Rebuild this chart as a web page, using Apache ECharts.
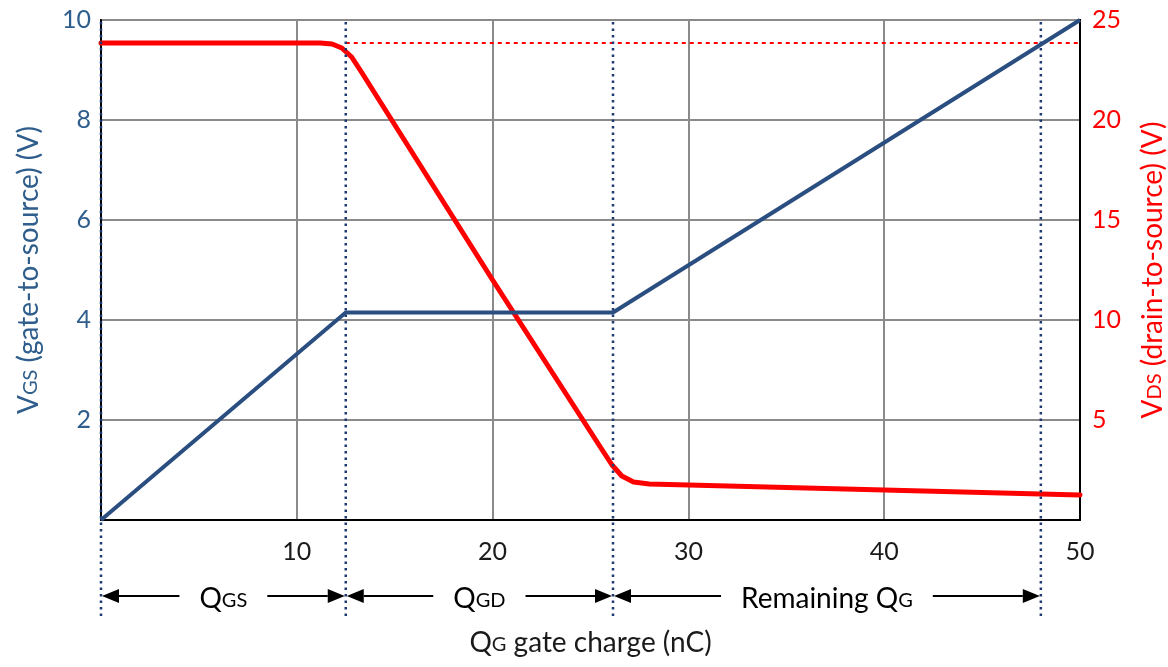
<html>
  <head>
    <title>Gate charge</title>
    <script src="https://cdn.jsdelivr.net/npm/echarts@6/dist/echarts.min.js"></script>
    <style>
      html, body { margin: 0; padding: 0; background: #fff; }
      #chart { width: 1168px; height: 667px; }
    </style>
  </head>
  <body>
    <div id="chart"></div>
    <script>
      // gate charge axis (nC) and the two curves
      var vgsQ = [0, 12.5, 26.15, 50]
      var vgs = [0, 4.15, 4.15, 10]

      var vdsQ = [0, 11.2, 11.8, 12.3, 12.8, 13.3, 20, 25.6, 26.1, 26.6, 27.2, 28, 40, 50]
      var vds = [23.85, 23.85, 23.8, 23.6, 23.15, 22.4, 12.0, 3.5, 2.75, 2.2, 1.9, 1.8, 1.5, 1.25]

      var vdsMaxQ = [12.5, 50]
      var vdsMax = [23.85, 23.85]

      // dotted boundaries and the charge spans between them
      var dividers = [0, 12.5, 26.15, 48]
      var spans = [
        [0, 12.5, '{m|Q}{s|GS}'],
        [12.5, 26.15, '{m|Q}{s|GD}'],
        [26.15, 48, '{m|Remaining Q}{s|G}']
      ]

      var blue = '#2B4E80'
      var axisBlue = '#2F5D8C'
      var red = '#FF0000'
      var navy = '#1F3A73'
      var font = 'Lato'

      function zip(a, b) {
        return a.map(function (v, i) { return [v, b[i]] })
      }

      function rich(color) {
        return {
          m: { fontSize: 28, fontFamily: font, color: color, lineHeight: 34 },
          s: { fontSize: 20, fontFamily: font, color: color, lineHeight: 14, verticalAlign: 'bottom' }
        }
      }

      function hideZero(v) { return v === 0 ? '' : v }

      var chart = echarts.init(document.getElementById('chart'))

      chart.setOption({
        animation: false,
        grid: {
          left: 101,
          right: 88,
          top: 20,
          bottom: 147,
          outerBoundsMode: 'none',
          containLabel: false,
          show: true,
          borderColor: '#000',
          borderWidth: 2
        },
        xAxis: {
          type: 'value',
          min: 0,
          max: 50,
          interval: 10,
          name: '{m|Q}{s|G}{m| gate charge (nC)}',
          nameLocation: 'middle',
          nameGap: 106,
          nameTextStyle: { rich: rich('#1a1a1a') },
          axisLine: { lineStyle: { color: '#000', width: 2 } },
          axisTick: { show: false },
          axisLabel: {
            margin: 13,
            fontSize: 25,
            fontFamily: font,
            color: '#1a1a1a',
            formatter: hideZero
          },
          splitLine: { lineStyle: { color: '#8a8a8a', width: 2 } }
        },
        yAxis: [
          {
            type: 'value',
            min: 0,
            max: 10,
            interval: 2,
            name: '{m|V}{s|GS}{m| (gate-to-source) (V)}',
            nameLocation: 'middle',
            nameRotate: 90,
            nameGap: 55,
            nameTextStyle: { rich: rich(axisBlue) },
            axisLine: { show: true, lineStyle: { color: '#000', width: 2 } },
            axisTick: { show: false },
            axisLabel: {
              margin: 10,
              fontSize: 25,
              fontFamily: font,
              color: axisBlue,
              formatter: hideZero
            },
            splitLine: { lineStyle: { color: '#8a8a8a', width: 2 } }
          },
          {
            type: 'value',
            position: 'right',
            min: 0,
            max: 25,
            interval: 5,
            name: '{m|V}{s|DS}{m| (drain-to-source) (V)}',
            nameLocation: 'middle',
            nameRotate: 90,
            nameGap: 43,
            nameTextStyle: { rich: rich(red) },
            axisLine: { show: true, lineStyle: { color: '#000', width: 2 } },
            axisTick: { show: false },
            axisLabel: {
              margin: 12,
              fontSize: 25,
              fontFamily: font,
              color: red,
              formatter: hideZero
            },
            splitLine: { show: false }
          }
        ],
        series: [
          {
            type: 'line',
            yAxisIndex: 1,
            data: zip(vdsMaxQ, vdsMax),
            symbol: 'none',
            lineStyle: { color: red, width: 2, type: [4, 4] },
            z: 2
          },
          {
            type: 'line',
            yAxisIndex: 1,
            data: zip(vdsQ, vds),
            symbol: 'none',
            lineStyle: { color: red, width: 5, join: 'round', cap: 'round' },
            z: 3
          },
          {
            type: 'custom',
            coordinateSystem: 'cartesian2d',
            clip: false,
            silent: true,
            data: dividers,
            renderItem: function (params, api) {
              var x = api.value(0)
              var top = api.coord([x, 10])
              var bot = api.coord([x, 0])
              return {
                type: 'line',
                shape: { x1: top[0], y1: top[1] + 2, x2: bot[0], y2: bot[1] + 100 },
                style: { stroke: navy, lineWidth: 2.5, lineDash: [2.5, 4] }
              }
            },
            z: 4
          },
          {
            type: 'line',
            data: zip(vgsQ, vgs),
            symbol: 'none',
            lineStyle: { color: blue, width: 4 },
            z: 5
          },
          {
            type: 'custom',
            coordinateSystem: 'cartesian2d',
            clip: false,
            silent: true,
            data: spans,
            encode: { x: [0, 1] },
            renderItem: function (params, api) {
              var s = spans[params.dataIndex]
              var a = api.coord([s[0], 0])
              var b = api.coord([s[1], 0])
              var y = a[1] + 76
              var x1 = a[0] + 1
              var x2 = b[0] - 1
              var len = 17
              var h = 7
              return {
                type: 'group',
                children: [
                  {
                    type: 'line',
                    shape: { x1: x1 + len, y1: y, x2: x2 - len, y2: y },
                    style: { stroke: '#000', lineWidth: 2 }
                  },
                  {
                    type: 'polygon',
                    shape: { points: [[x1, y], [x1 + len, y - h], [x1 + len, y + h]] },
                    style: { fill: '#000' }
                  },
                  {
                    type: 'polygon',
                    shape: { points: [[x2, y], [x2 - len, y - h], [x2 - len, y + h]] },
                    style: { fill: '#000' }
                  },
                  {
                    type: 'text',
                    style: {
                      text: s[2],
                      x: (x1 + x2) / 2,
                      y: y + 3,
                      align: 'center',
                      verticalAlign: 'middle',
                      rich: rich('#1a1a1a'),
                      backgroundColor: '#fff',
                      padding: [0, 20, 0, 20]
                    }
                  }
                ]
              }
            },
            z: 6
          }
        ]
      })
    </script>
  </body>
</html>
